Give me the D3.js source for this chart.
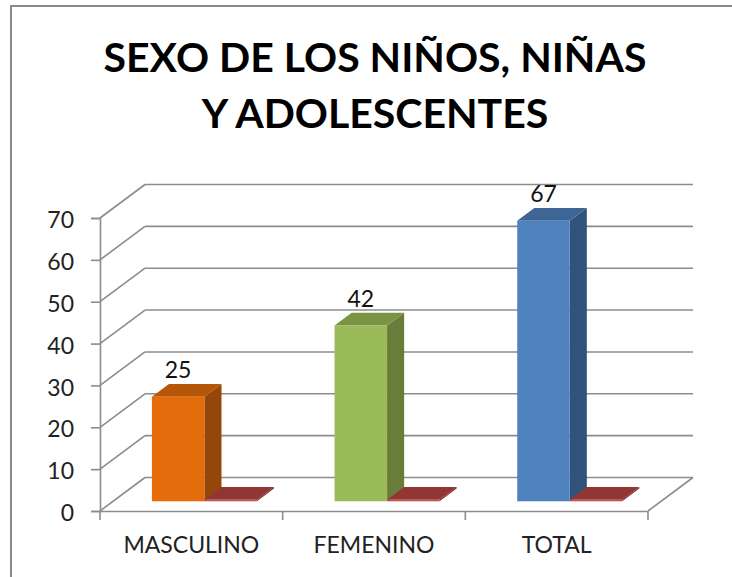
<!DOCTYPE html>
<html>
<head>
<meta charset="utf-8">
<script src="https://cdn.jsdelivr.net/npm/d3@7/dist/d3.min.js"></script>
<style>
  body { margin: 0; background: #fff; }
  svg { display: block; font-family: Lato, "Open Sans", sans-serif; }
</style>
</head>
<body>
<svg id="chart" width="732" height="577"></svg>
<script>
// chart data
var categories = ["MASCULINO", "FEMENINO", "TOTAL"];
var series1 = [25, 42, 67];
var series2 = [0, 0, 0];
var yTicks = [0, 10, 20, 30, 40, 50, 60, 70];
var titleLines = ["SEXO DE LOS NIÑOS, NIÑAS", "Y ADOLESCENTES"];

// colours per bar (front, side, top)
var faces1 = [
	{front: "#E46C0A", side: "#944708", top: "#B65608"},
	{front: "#9BBB59", side: "#687D3A", top: "#7A9444"},
	{front: "#4F81BD", side: "#30527B", top: "#3D6595"}
];
var faces2 = {front: "#C0504D", side: "#7A2E2C", top: "#923634"};

var svg = d3.select("#chart");

// frame (only left and top edges show in the crop)
svg.append("path")
	.attr("d", "M11,577 L11,6 L732,6")
	.attr("fill", "none").attr("stroke", "#8a8a8a").attr("stroke-width", 2);

// title
svg.append("text")
	.attr("x", 375).attr("text-anchor", "middle")
	.attr("font-weight", "bold").attr("font-size", 41).attr("fill", "#000")
	.selectAll("tspan").data(titleLines).enter().append("tspan")
	.attr("x", 375)
	.attr("y", function (d, i) { return 72 + i * 56; })
	.text(function (d) { return d; });

// scales
var y = d3.scaleLinear().domain([0, 70]).range([511, 218]);
var x = d3.scaleBand().domain(categories).range([100, 648]);
var inner = d3.scaleBand().domain(["s1", "s2"]).range([0, x.bandwidth()])
	.paddingInner(0).paddingOuter(0.74);
var DX = 45, DY = -33.5;     // depth of the 3d box
var t0 = 0.29, t1 = 0.67;    // where bars sit in the depth

var grid = "#8c8c8c";
var g = svg.append("g");

// back wall and side wall lines
yTicks.forEach(function (v) {
	g.append("line")
		.attr("x1", 100).attr("y1", y(v))
		.attr("x2", 100 + DX).attr("y2", y(v) + DY)
		.attr("stroke", grid).attr("stroke-width", 1.6);
	g.append("line")
		.attr("x1", 100 + DX).attr("y1", y(v) + DY)
		.attr("x2", 648 + DX).attr("y2", y(v) + DY)
		.attr("stroke", grid).attr("stroke-width", 1.6);
});
// floor right edge
g.append("line")
	.attr("x1", 648).attr("y1", y(0)).attr("x2", 648 + DX).attr("y2", y(0) + DY)
	.attr("stroke", grid).attr("stroke-width", 1.6);

// y axis
var yAxis = d3.axisLeft(y).tickValues(yTicks).tickSize(9).tickPadding(17);
var ya = svg.append("g").attr("transform", "translate(100,0)").call(yAxis);
ya.select(".domain").attr("stroke", grid).attr("stroke-width", 1.6);
ya.selectAll(".tick line").attr("stroke", grid).attr("stroke-width", 1.6);
ya.selectAll(".tick text").attr("font-size", 23).attr("fill", "#222")
	.attr("font-family", "Lato, sans-serif").attr("dy", "0.42em");

// x axis
var xAxis = d3.axisBottom(x).tickSize(0).tickPadding(26);
var xa = svg.append("g").attr("transform", "translate(0," + y(0) + ")").call(xAxis);
xa.select(".domain").attr("stroke", grid).attr("stroke-width", 1.6);
xa.selectAll(".tick text").attr("font-size", 23).attr("fill", "#222")
	.attr("font-family", "Lato, sans-serif");
// category separators
var seps = [100].concat(categories.map(function (c) { return x(c) + x.bandwidth(); }));
xa.selectAll("line.sep").data(seps).enter().append("line")
	.attr("class", "sep")
	.attr("x1", function (d) { return d; }).attr("x2", function (d) { return d; })
	.attr("y1", 0).attr("y2", 9)
	.attr("stroke", grid).attr("stroke-width", 1.6);

function pts(a) { return a.map(function (p) { return p.join(","); }).join(" "); }

// one 3d bar
function bar3d(parent, x0, w, v, col, minH) {
	var yb = y(0), yt = y(v);
	if (yb - yt < minH) yt = yb - minH;
	var fx = x0 + t0 * DX, bx = x0 + t1 * DX;
	var fy = t0 * DY, by = t1 * DY;
	parent.append("polygon").attr("fill", col.side)
		.attr("points", pts([[fx + w, yt + fy], [bx + w, yt + by], [bx + w, yb + by], [fx + w, yb + fy]]));
	parent.append("polygon").attr("fill", col.top)
		.attr("points", pts([[fx, yt + fy], [fx + w, yt + fy], [bx + w, yt + by], [bx, yt + by]]));
	parent.append("rect").attr("fill", col.front)
		.attr("x", fx).attr("y", yt + fy).attr("width", w).attr("height", yb - yt);
}

var bars = svg.append("g");
categories.forEach(function (c, i) {
	var w = inner.bandwidth();
	bar3d(bars, x(c) + inner("s1"), w, series1[i], faces1[i], 0);
	bar3d(bars, x(c) + inner("s2"), w, series2[i], faces2, 1.6);
	// value label
	bars.append("text")
		.attr("x", x(c) + inner("s1") + t0 * DX + w / 2)
		.attr("y", y(series1[i]) + t1 * DY - 6)
		.attr("text-anchor", "middle").attr("font-size", 23).attr("fill", "#111")
		.text(series1[i]);
});
</script>
</body>
</html>
